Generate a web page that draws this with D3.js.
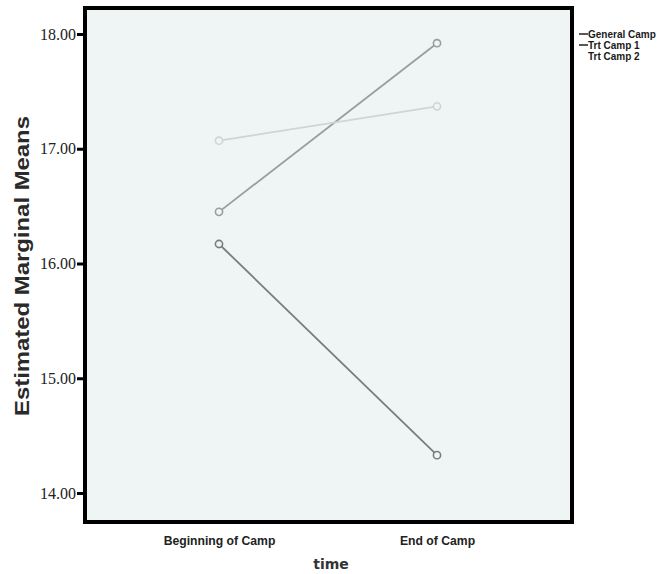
<!DOCTYPE html>
<html>
<head>
<meta charset="utf-8">
<script src="https://cdn.jsdelivr.net/npm/d3@7"></script>
<style>
  body { margin: 0; background: #fff; }
  svg { display: block; }
</style>
</head>
<body>
<svg id="grafico" width="665" height="574"></svg>
<script>
const periods = ["Beginning of Camp", "End of Camp"];
const groups = ["General Camp", "Trt Camp 1", "Trt Camp 2"];
const generalCamp = [16.17, 14.33];
const trtCamp1 = [16.45, 17.92];
const trtCamp2 = [17.07, 17.37];
const yTicks = [14, 15, 16, 17, 18];

const seriesColors = ["#7c7c7c", "#9c9c9c", "#d2d4d4"];
const legendDash = ["#111", "#111", "none"];

const series = [generalCamp, trtCamp1, trtCamp2].map((vals, i) => ({
  name: groups[i],
  color: seriesColors[i],
  values: vals.map((v, j) => ({ period: periods[j], value: v }))
}));

const svg = d3.select("#grafico");
const frame = { left: 85, top: 8, right: 572, bottom: 522 };

const x = d3.scalePoint()
  .domain(periods)
  .range([219, 437]);

const y = d3.scaleLinear()
  .domain([14, 18])
  .range([493, 34]);

// fondo del grafico
svg.append("rect")
  .attr("x", frame.left)
  .attr("y", frame.top)
  .attr("width", frame.right - frame.left)
  .attr("height", frame.bottom - frame.top)
  .attr("fill", "#eff4f4");

// eje y
const yAxis = svg.append("g")
  .attr("transform", `translate(${frame.left},0)`)
  .call(d3.axisLeft(y).tickValues(yTicks).tickFormat(d3.format(".2f")).tickSize(8).tickPadding(1));
yAxis.select(".domain").remove();
yAxis.selectAll(".tick line").attr("stroke", "#000").attr("stroke-width", 3);
yAxis.selectAll(".tick text")
  .attr("font-family", "Liberation Serif, Times New Roman, serif")
  .attr("font-size", 16)
  .attr("fill", "#222");

// etiquetas eje x
const xAxis = svg.append("g")
  .attr("transform", `translate(0,${frame.bottom})`)
  .call(d3.axisBottom(x).tickSize(0).tickPadding(14));
xAxis.select(".domain").remove();
xAxis.selectAll(".tick text")
  .attr("font-family", "Liberation Sans, Arial, sans-serif")
  .attr("font-weight", "bold")
  .attr("font-size", 12.2)
  .attr("fill", "#222");

// lineas
const line = d3.line()
  .x(d => x(d.period))
  .y(d => y(d.value));

svg.selectAll("path.serie")
  .data(series)
  .join("path")
  .attr("class", "serie")
  .attr("d", d => line(d.values))
  .attr("fill", "none")
  .attr("stroke", d => d.color)
  .attr("stroke-width", 1.8);

svg.selectAll("g.puntos")
  .data(series)
  .join("g")
  .attr("class", "puntos")
  .selectAll("circle")
  .data(d => d.values.map(v => ({ ...v, color: d.color })))
  .join("circle")
  .attr("cx", d => x(d.period))
  .attr("cy", d => y(d.value))
  .attr("r", 3.6)
  .attr("fill", "#eff4f4")
  .attr("stroke", d => d.color)
  .attr("stroke-width", 1.6);

// marco
svg.append("rect")
  .attr("x", frame.left)
  .attr("y", frame.top)
  .attr("width", frame.right - frame.left)
  .attr("height", frame.bottom - frame.top)
  .attr("fill", "none")
  .attr("stroke", "#000")
  .attr("stroke-width", 4);

// titulos de ejes
svg.append("text")
  .attr("x", 331)
  .attr("y", 569)
  .attr("text-anchor", "middle")
  .attr("font-family", "DejaVu Sans, Verdana, sans-serif")
  .attr("font-weight", "bold")
  .attr("font-size", 14)
  .attr("fill", "#333")
  .text("time");

svg.append("text")
  .attr("transform", "translate(29,266) rotate(-90)")
  .attr("text-anchor", "middle")
  .attr("font-family", "Liberation Sans, Arial, sans-serif")
  .attr("font-weight", "bold")
  .attr("font-size", 21)
  .attr("textLength", 300)
  .attr("lengthAdjust", "spacingAndGlyphs")
  .attr("fill", "#2a2a2a")
  .text("Estimated Marginal Means");

// leyenda
const legend = svg.append("g")
  .attr("transform", "translate(579,34)");
const items = legend.selectAll("g")
  .data(groups)
  .join("g")
  .attr("transform", (_, i) => `translate(0,${i * 11})`);
items.append("line")
  .attr("x1", 0).attr("x2", 9)
  .attr("y1", 0).attr("y2", 0)
  .attr("stroke", (_, i) => legendDash[i])
  .attr("stroke-width", 1.4);
items.append("text")
  .attr("x", 9)
  .attr("y", 3.5)
  .attr("font-family", "Liberation Sans, Arial, sans-serif")
  .attr("font-weight", "bold")
  .attr("font-size", 10)
  .attr("fill", "#1a1a1a")
  .text(d => d);
</script>
</body>
</html>
